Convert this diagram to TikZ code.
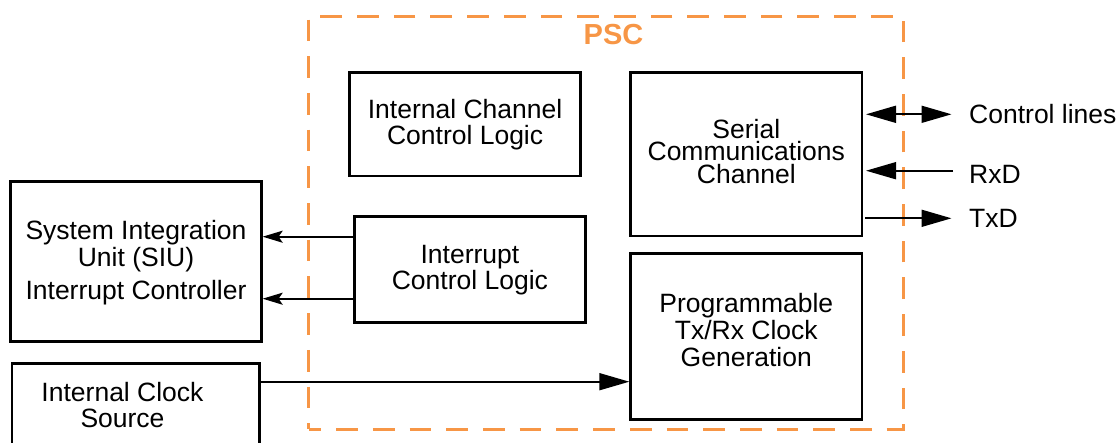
\documentclass[tikz,border=0pt]{standalone}
\usepackage{fontspec}
\setmainfont{Liberation Sans}
\usetikzlibrary{arrows.meta}
\definecolor{pscorange}{RGB}{247,150,70}
\newcommand\mytopstrut[1][0pt]{\rule{0pt}{\dimexpr0.7\baselineskip+#1\relax}}
\newcommand\mybotstrut[1][0pt]{\rule[\dimexpr-0.3\baselineskip-#1\relax]{0pt}{\dimexpr0.3\baselineskip+#1\relax}}
\begin{document}
\begin{tikzpicture}[x=1pt,y=-1pt,
  box/.style={draw=black, line width=2.8pt, align=center, inner sep=0pt},
  pscframe/.style={draw=pscorange, line width=2.7pt, dash pattern=on 21.7pt off 15pt, dash phase=9pt, inner sep=0pt},
  conn/.style={draw=black, line width=1.7pt},
  smalltip/.style={-{Stealth[length=20pt,width=12pt,inset=4pt]}},
  bigtip/.style={-{Triangle[length=30pt,width=17pt]}},
  sidelabel/.style={anchor=base west, inner sep=0pt, font=\fontsize{26.5}{30}\selectfont}
]
\useasboundingbox (0,0) rectangle (1117,442);
\clip (0,0) rectangle (1117,442);

% PSC frame and title
\node[pscframe, minimum width=594.8pt, minimum height=413pt] (pscbox) at (605.9,222.8) {};
\node[text=pscorange, inner sep=0pt, font=\bfseries\fontsize{29}{29}\selectfont] (psc) at (613.5,35) {PSC};

% blocks
\node[box, minimum width=231.2pt, minimum height=103.6pt, font=\fontsize{26.5}{26.7}\selectfont]
  (iccl) at (465.1,124.2) {\mytopstrut[4.2pt]Internal Channel\\Control Logic\mybotstrut};
\node[box, minimum width=231.2pt, minimum height=163.2pt, font=\fontsize{26.5}{22.5}\selectfont]
  (serial) at (746.3,154.3) {\mytopstrut[2pt]Serial\\Communications\\Channel\mybotstrut};
\node[box, minimum width=231.6pt, minimum height=106.2pt, font=\fontsize{26.5}{26}\selectfont]
  (icl) at (469.9,269.5) {\mytopstrut[3.2pt]Interrupt\\Control Logic\mybotstrut};
\node[box, minimum width=231.2pt, minimum height=165.6pt, font=\fontsize{26.5}{26.7}\selectfont]
  (prog) at (746.3,336.5) {\mytopstrut Programmable\\Tx/Rx Clock\\Generation\mybotstrut[5.6pt]};
\node[box, minimum width=250.5pt, minimum height=159.9pt, font=\fontsize{26.5}{27.4}\selectfont]
  (siu) at (136,261.4) {\mytopstrut[4.8pt]System Integration\\Unit (SIU)\\[5.2pt]Interrupt Controller\mybotstrut};
\node[box, minimum width=247.7pt, minimum height=90pt, font=\fontsize{26.5}{25.7}\selectfont]
  (clock) at (135.8,408.7) {\mytopstrut Internal Clock\hspace*{26.6pt}\\Source\hspace*{26.6pt}\mybotstrut};

% right-side signal labels
\node[sidelabel] (ctl) at (969,123.3) {Control lines};
\node[sidelabel] (rxd) at (969,183.3) {RxD};
\node[sidelabel] (txd) at (969,227.7) {TxD};
\coordinate (ctlend) at (951.5,114.3);
\coordinate (rxdend) at (953,170.7);
\coordinate (txdend) at (951.5,218.3);

% connectors
\draw[conn, smalltip] (icl.west |- 0,236.7) -- (siu.east |- 0,236.7);
\draw[conn, smalltip] (icl.west |- 0,298.7) -- (siu.east |- 0,298.7);
\draw[conn, bigtip] (clock.east |- 0,381.7) -- (prog.west |- 0,381.7);
\draw[conn, {Triangle[length=30pt,width=17pt]}-{Triangle[length=30pt,width=17pt]}]
  ([xshift=2.7pt]serial.east |- ctlend) -- (ctlend);
\draw[conn, bigtip] (rxdend) -- ([xshift=2.7pt]serial.east |- rxdend);
\draw[conn, bigtip] ([xshift=1.7pt]serial.east |- txdend) -- (txdend);
\end{tikzpicture}
\end{document}
